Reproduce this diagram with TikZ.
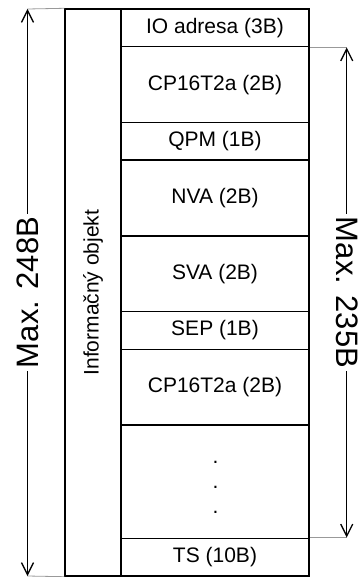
\documentclass[tikz,border=0pt]{standalone}
\usepackage{fontspec}
\setmainfont{Liberation Sans}
\usetikzlibrary{arrows.meta}
\begin{document}
\begin{tikzpicture}[x=1pt, y=-1pt,
  cellbox/.style={draw, line width=1.4pt, minimum width=188pt, inner sep=0pt, font=\fontsize{21}{25}\selectfont},
  colbox/.style={draw, line width=1.4pt, minimum width=56pt, minimum height=567pt, inner sep=0pt},
  extline/.style={draw=gray!80, line width=0.8pt},
  dimarrow/.style={line width=1.3pt, {Straight Barb[length=12pt, width=12pt]}-{Straight Barb[length=12pt, width=12pt]}},
  maxlabel/.style={fill=white, inner sep=3pt, font=\fontsize{31}{36}\selectfont}]
\useasboundingbox (0,0) rectangle (361,577);
% column with the object name
\node[colbox] (info) at (93,292.5) {};
\node[rotate=90, font=\fontsize{21}{25}\selectfont] (infotext) at (info.center) {Informačný objekt};
% fields, height in units of one byte row
\foreach \t/\h/\txt [count=\n] in {0/1/IO adresa (3B), 1/2/CP16T2a (2B), 3/1/QPM (1B), 4/2/NVA (2B), 6/2/SVA (2B), 8/1/SEP (1B), 9/2/CP16T2a (2B), 11/3/{}, 14/1/TS (10B)} {
  \node[cellbox, minimum height=\h*37.8pt] (cell\n) at (215,9+\t*37.8+\h*18.9) {\txt};
}
\foreach \k in {1,2,3}
  \node[anchor=base, inner sep=0pt, font=\fontsize{21}{25}\selectfont] (dot\k) at (215.5,438+\k*25) {.};
% whole length
\coordinate (topL) at (27.5,9);
\coordinate (botL) at (27.5,576);
\draw[extline] (topL) -- (info.north west);
\draw[extline] (botL) -- (info.south west);
\draw[dimarrow] (topL) -- (botL) node[midway, rotate=90, maxlabel] (maxall) {Max. 248B};
% length without address and time stamp
\draw[extline] (cell1.south east) -- ++(37,0) coordinate (topR);
\draw[extline] (cell9.north east) -- ++(37,0) coordinate (botR);
\draw[dimarrow] (topR) -- (botR) node[midway, rotate=-90, maxlabel] (maxpart) {Max. 235B};
\end{tikzpicture}
\end{document}
